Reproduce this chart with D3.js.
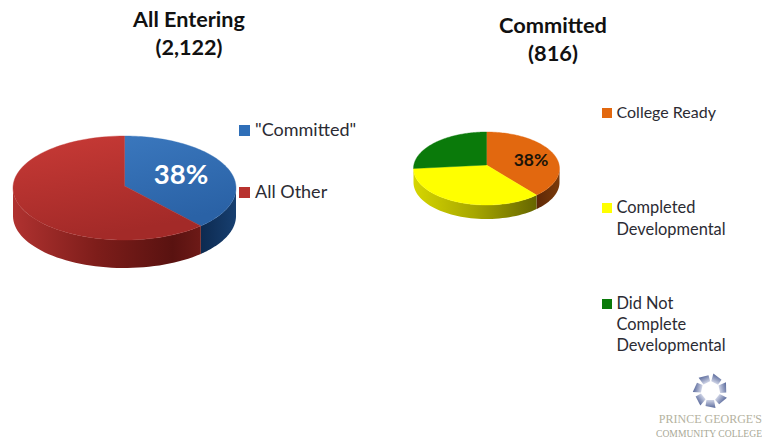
<!DOCTYPE html>
<html>
<head>
<meta charset="utf-8">
<script src="https://cdn.jsdelivr.net/npm/d3@7/dist/d3.min.js"></script>
<style>
html,body{margin:0;padding:0;background:#fff;overflow:hidden}
svg{display:block}
</style>
</head>
<body>
<svg id="chart" width="762" height="441"></svg>
<script>
// Series
const enteringLabels = ['"Committed"', 'All Other'];
const enteringValues = [38, 62];
const committedLabels = ['College Ready', 'Completed Developmental', 'Did Not Complete Developmental'];
const committedValues = [38, 37, 25];
const enteringTitle = ['All Entering', '(2,122)'];
const committedTitle = ['Committed', '(816)'];
const logoLines = ["PRINCE GEORGE'S", 'COMMUNITY COLLEGE'];
const fontStack = 'Lato, "Open Sans", sans-serif';

const svg = d3.select('#chart');
const defs = svg.append('defs');

const pieGen = d3.pie().sort(null).value(d => d);

function linearGradient(id, stops, x2, y2) {
  const g = defs.append('linearGradient').attr('id', id)
    .attr('x1', 0).attr('y1', 0).attr('x2', x2).attr('y2', y2);
  stops.forEach(([o, c]) => g.append('stop').attr('offset', o).attr('stop-color', c));
  return `url(#${id})`;
}

// Tilted pie: top wedges on an ellipse plus a shaded wall below the front rim.
function drawPie(opts) {
  const {values, cx, cy, apexY, rx, ry, depth, tops, walls} = opts;
  const rim = a => [cx + rx * Math.sin(a), cy - ry * Math.cos(a)];
  const line = d3.line();
  const g = svg.append('g');
  const slices = pieGen(values);

  slices.forEach((s, i) => {
    const from = Math.max(s.startAngle, Math.PI / 2);
    const to = Math.min(s.endAngle, 3 * Math.PI / 2);
    if (to <= from) return;
    const upper = d3.range(0, 49).map(k => rim(from + (to - from) * k / 48));
    const lower = upper.slice().reverse().map(([x, y]) => [x, y + depth]);
    g.append('path').attr('d', line(upper.concat(lower)) + 'Z').attr('fill', walls[i]);
  });

  slices.forEach((s, i) => {
    const arcPts = d3.range(0, 97).map(k => rim(s.startAngle + (s.endAngle - s.startAngle) * k / 96));
    g.append('path').attr('d', line([[cx, apexY]].concat(arcPts)) + 'Z')
      .attr('fill', tops[i]).attr('stroke', tops[i]).attr('stroke-width', 0.4);
  });
}

drawPie({
  values: enteringValues, cx: 124.5, cy: 188, apexY: 186, rx: 111.5, ry: 52, depth: 28,
  tops: [
    linearGradient('blueTop', [[0, '#3a77bd'], [1, '#2a62a6']], 0.3, 1),
    linearGradient('redTop', [[0, '#c83a36'], [1, '#a32a28']], 0.3, 1)
  ],
  walls: [
    linearGradient('blueWall', [[0, '#0d2a50'], [1, '#173f70']], 1, 0),
    linearGradient('redWall', [[0, '#b03230'], [0.45, '#7d1d1a'], [0.85, '#591210'], [1, '#6d1a17']], 1, 0)
  ]
});

drawPie({
  values: committedValues, cx: 486.5, cy: 168.5, apexY: 165, rx: 73, ry: 36.5, depth: 14,
  tops: ['#e2680f', '#ffff00', '#0a7a0a'],
  walls: [
    linearGradient('orangeWall', [[0, '#5e2807'], [1, '#7a3a0a']], 1, 0),
    linearGradient('yellowWall', [[0, '#d6d600'], [0.5, '#a6a600'], [1, '#666600']], 1, 0),
    '#0a5a0a'
  ]
});

// Titles
const titles = [
  {lines: enteringTitle, x: 189, y: [27, 55], size: 21.6},
  {lines: committedTitle, x: 553, y: [33, 61], size: 21.8}
];
titles.forEach(t => t.lines.forEach((txt, i) => {
  svg.append('text').text(txt).attr('x', t.x).attr('y', t.y[i])
    .attr('text-anchor', 'middle').attr('font-family', fontStack)
    .attr('font-weight', 700).attr('font-size', t.size).attr('fill', '#111');
}));

// Percentage labels on the top faces
svg.append('text').text(enteringValues[0] + '%').attr('x', 181).attr('y', 184)
  .attr('text-anchor', 'middle').attr('font-family', fontStack)
  .attr('font-weight', 700).attr('font-size', 27.5).attr('fill', '#fff');
svg.append('text').text(committedValues[0] + '%').attr('x', 531).attr('y', 166)
  .attr('text-anchor', 'middle').attr('font-family', fontStack)
  .attr('font-weight', 700).attr('font-size', 17.5).attr('fill', '#1a1408');

// Legends
function legendEntry(x, y, size, color, lines, fontSize, gap, lineStep) {
  svg.append('rect').attr('x', x).attr('y', y).attr('width', size).attr('height', size).attr('fill', color);
  lines.forEach((txt, i) => {
    svg.append('text').text(txt).attr('x', x + size + gap).attr('y', y + size + i * lineStep)
      .attr('font-family', fontStack).attr('font-size', fontSize).attr('fill', '#2b2b33');
  });
}
legendEntry(239, 125, 11, '#2f6fb8', [enteringLabels[0]], 18, 5, 0);
legendEntry(239, 187, 11, '#b8322f', [enteringLabels[1]], 18, 5, 0);
legendEntry(602, 108, 10, '#e2680f', [committedLabels[0]], 16, 4.5, 21);
legendEntry(602, 203, 10, '#ffff00', ['Completed', 'Developmental'], 16.4, 4.5, 21.5);
legendEntry(602, 299, 10, '#0a7a0a', ['Did Not', 'Complete', 'Developmental'], 16.4, 4.5, 21);

// College mark: a ring of small petals above the wordmark
const logo = svg.append('g').attr('transform', 'translate(710.5,391)');
const petalFill = linearGradient('petal', [[0, '#5a6a9c'], [1, '#cfd4e6']], 0, 1);
d3.range(7).forEach(i => {
  logo.append('path')
    .attr('d', 'M-5,-17 L5,-15 L4,-9 L-3.5,-9 Z')
    .attr('transform', `rotate(${i * 360 / 7 + 180})`)
    .attr('fill', petalFill);
});
logoLines.forEach((txt, i) => {
  svg.append('text').text(txt).attr('x', 762).attr('y', i ? 437 : 423)
    .attr('text-anchor', 'end').attr('font-family', '"Liberation Serif", serif')
    .attr('font-size', i ? 9.6 : 12).attr('fill', i ? '#a8a896' : '#b4b2a0');
});
</script>
</body>
</html>
